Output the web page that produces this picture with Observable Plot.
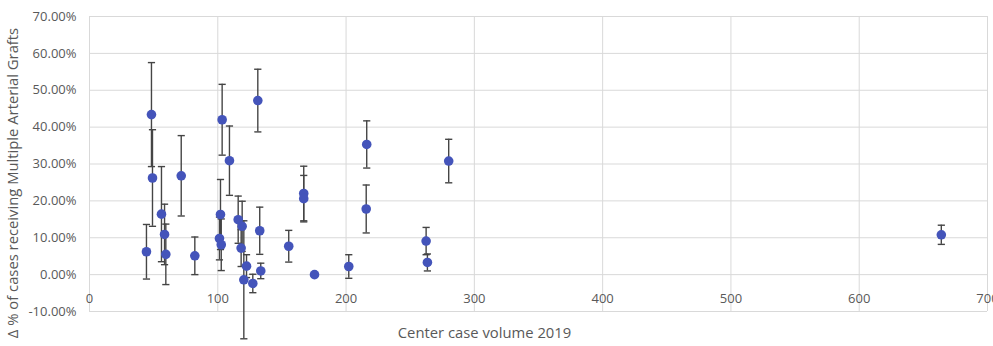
<!DOCTYPE html>
<html><head><meta charset="utf-8">
<script src="https://cdn.jsdelivr.net/npm/d3@7"></script>
<script src="https://cdn.jsdelivr.net/npm/@observablehq/plot@0.6"></script>
<style>html,body{margin:0;padding:0;background:#fff;overflow:hidden}</style>
</head><body><div id="chart"></div>
<script>
// Center case volume 2019 (x)
const volume = [44.4, 48.3, 49.1, 56.1, 58.5, 59.5, 71.5, 82.1, 103.4, 109.1, 131.2, 102.1, 101.3, 102.7, 115.9, 119.0, 118.2, 122.4, 120.3, 127.3, 132.7, 133.5, 155.3, 167.0, 167.0, 175.4, 202.1, 215.7, 216.1, 280.0, 262.4, 263.4, 664.0];
// Δ % of cases receiving multiple arterial grafts (percent)
const delta = [6.2, 43.4, 26.2, 16.4, 10.9, 5.5, 26.8, 5.1, 42.0, 30.9, 47.2, 16.3, 9.8, 8.1, 14.9, 13.1, 7.2, 2.3, -1.4, -2.4, 11.9, 1.0, 7.7, 22.0, 20.6, 0.0, 2.2, 17.8, 35.3, 30.8, 9.1, 3.3, 10.8];
// error bar half-length (percent points)
const errorPct = [7.4, 14.1, 13.1, 12.9, 8.2, 8.2, 10.9, 5.1, 9.6, 9.4, 8.5, 9.5, 5.8, 7.0, 6.4, 6.8, 5.0, 3.1, 16.0, 2.5, 6.4, 2.1, 4.3, 7.4, 6.3, 0.0, 3.2, 6.5, 6.4, 5.9, 3.7, 2.3, 2.6];
const xTicks = [0, 100, 200, 300, 400, 500, 600, 700];
const yTicks = [-0.1, 0, 0.1, 0.2, 0.3, 0.4, 0.5, 0.6, 0.7];
const xTitle = "Center case volume 2019";
const yTitle = "Δ % of cases receiving Multiple Arterial Grafts";

const data = volume.map((v, i) => ({x: v, y: delta[i] / 100, e: errorPct[i] / 100}));
const caps = data.flatMap(d => [{x: d.x, y: d.y - d.e}, {x: d.x, y: d.y + d.e}]);

const capSymbol = {draw(ctx, size) { const r = Math.sqrt(size / Math.PI); ctx.moveTo(-r, 0); ctx.lineTo(r, 0); }};

const chart = Plot.plot({
  width: 993, height: 346,
  marginLeft: 89, marginRight: 6, marginTop: 16, marginBottom: 35,
  x: {domain: [0, 700]},
  y: {domain: [-0.1, 0.7]},
  style: {fontFamily: "'Open Sans', sans-serif", fontSize: "13px", color: "#595959", background: "#fff", overflow: "visible"},
  marks: [
    Plot.gridX(xTicks, {stroke: "#d9d9d9", strokeOpacity: 1, strokeWidth: 1}),
    Plot.gridY(yTicks, {stroke: "#d9d9d9", strokeOpacity: 1, strokeWidth: 1}),
    Plot.axisY(yTicks, {tickSize: 0, tickPadding: 13, label: null, tickFormat: d => (d * 100).toFixed(2) + "%", fill: "#595959"}),
    Plot.axisX(xTicks, {tickSize: 0, label: null, dy: -27, fill: "#595959"}),
    Plot.ruleX(data, {x: "x", y1: d => d.y - d.e, y2: d => d.y + d.e, stroke: "#454545", strokeWidth: 1.4}),
    Plot.dot(caps, {x: "x", y: "y", symbol: capSymbol, r: 3.6, stroke: "#454545", strokeWidth: 1.4, fill: "none"}),
    Plot.dot(data, {x: "x", y: "y", r: 4.8, fill: "#4454ba", stroke: "none"}),
    Plot.text([xTitle], {frameAnchor: "bottom", dx: -54, dy: 26, fontSize: 14.8, fill: "#595959"}),
    Plot.text([yTitle], {frameAnchor: "left", textAnchor: "middle", rotate: -90, dx: -76, dy: 19, fontSize: 14.8, fill: "#595959"})
  ]
});
document.getElementById("chart").appendChild(chart);
</script>
</body></html>
